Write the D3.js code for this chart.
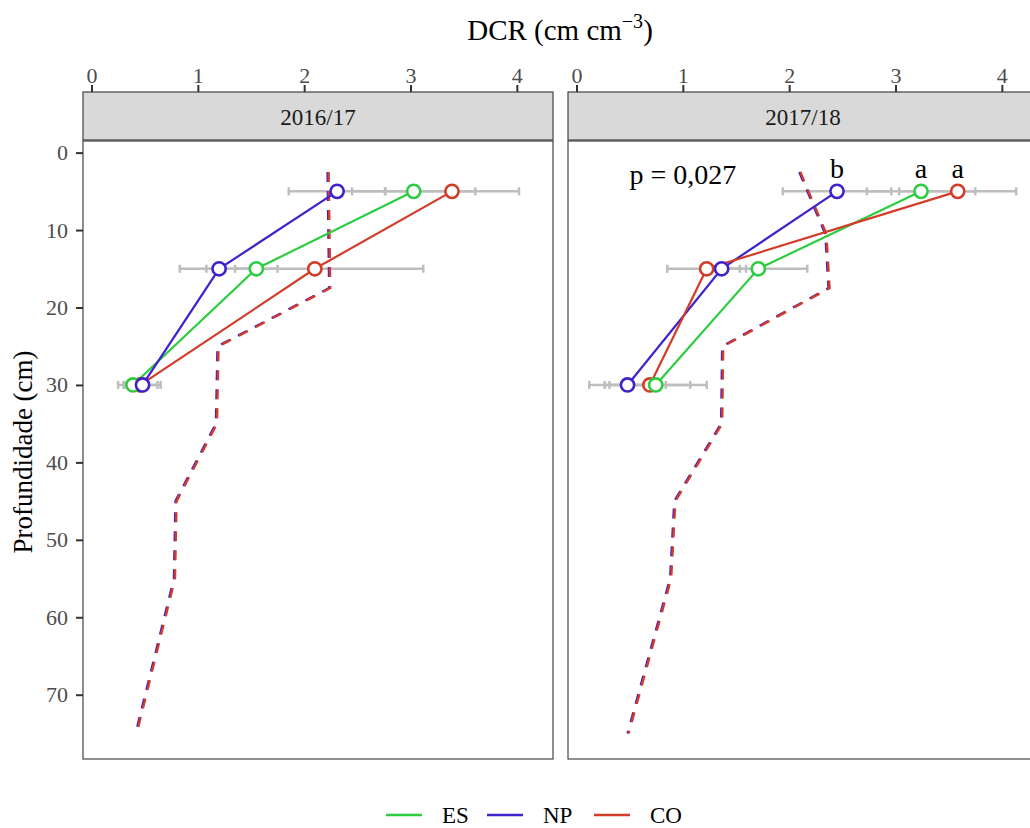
<!DOCTYPE html>
<meta charset="utf-8">
<head>
    <title>DCR por profundidade</title>
    <script type="text/javascript" src="https://d3js.org/d3.v7.min.js"></script>
    <style>
        body { margin: 0; background: #fff; }
        text { font-family: "Liberation Serif", "DejaVu Serif", serif; }
    </style>
</head>
<body>
    <div id="chart"></div>
    <script>
        // data
        var seasons = ["2016/17", "2017/18"];
        var treatments = ["ES", "NP", "CO"];
        var depths = [5, 15, 30];

        // 2016/17 means and error half-widths
        var es_1617 = [3.03, 1.55, 0.39], es_1617_err = [0.58, 0.20, 0.14];
        var np_1617 = [2.31, 1.20, 0.48], np_1617_err = [0.455, 0.37, 0.17];
        var co_1617 = [3.39, 2.10, 0.46], co_1617_err = [0.63, 1.02, 0.16];

        // 2017/18
        var es_1718 = [3.24, 1.71, 0.745], es_1718_err = [0.51, 0.46, 0.48];
        var np_1718 = [2.45, 1.365, 0.48], np_1718_err = [0.51, 0.17, 0.36];
        var co_1718 = [3.585, 1.224, 0.69], co_1718_err = [0.55, 0.37, 0.38];

        // dashed reference profiles
        var refDepth_1617 = [2.5, 17.5, 25, 35, 45, 55, 75];
        var refNP_1617 = [2.22, 2.235, 1.185, 1.17, 0.79, 0.775, 0.415];
        var refCO_1617 = [2.23, 2.245, 1.195, 1.18, 0.80, 0.785, 0.425];
        var refDepth_1718 = [2.5, 10.5, 17.5, 25, 35, 45, 55, 75];
        var refNP_1718 = [2.095, 2.34, 2.37, 1.37, 1.36, 0.92, 0.88, 0.48];
        var refCO_1718 = [2.105, 2.35, 2.38, 1.38, 1.37, 0.93, 0.89, 0.49];

        var letters_1718 = ["a", "b", "a"]; // ES, NP, CO at 5 cm
        var pLabel = "p = 0,027";

        var xTicks = [0, 1, 2, 3, 4];
        var yTicks = [0, 10, 20, 30, 40, 50, 60, 70];

        var colors = { ES: "#2ecc40", NP: "#3f22cc", CO: "#d23c28" };

        var width = 1030, height = 828;
        var panelW = 470;
        var panelX = [83, 568];
        var stripTop = 92, panelTop = 141, panelBottom = 759;

        var svg = d3.select("#chart").append("svg")
                    .attr("width", width)
                    .attr("height", height);

        var x = d3.scaleLinear().domain([-0.08, 4.34]).range([0, panelW]);
        var y = d3.scaleLinear().domain([-1.5, 78.3]).range([panelTop, panelBottom]);

        var panels = [
            { season: seasons[0], series: { ES: [es_1617, es_1617_err], NP: [np_1617, np_1617_err], CO: [co_1617, co_1617_err] },
              ref: [[refDepth_1617, refNP_1617, "NP"], [refDepth_1617, refCO_1617, "CO"]], letters: null },
            { season: seasons[1], series: { ES: [es_1718, es_1718_err], NP: [np_1718, np_1718_err], CO: [co_1718, co_1718_err] },
              ref: [[refDepth_1718, refNP_1718, "NP"], [refDepth_1718, refCO_1718, "CO"]], letters: letters_1718 }
        ];

        var line = d3.line().x(function(d) { return x(d[0]); }).y(function(d) { return y(d[1]); });

        panels.forEach(function(p, pi) {
            var g = svg.append("g").attr("transform", "translate(" + panelX[pi] + ",0)");

            // strip
            g.append("rect").attr("x", 0).attr("y", stripTop).attr("width", panelW)
             .attr("height", panelTop - stripTop - 1)
             .attr("fill", "#d9d9d9").attr("stroke", "#333").attr("stroke-width", 1.1);
            g.append("text").attr("x", panelW / 2).attr("y", (stripTop + panelTop) / 2 + 8)
             .attr("text-anchor", "middle").attr("font-size", 23).attr("fill", "#1a1a1a")
             .text(p.season);

            // top axis
            var xAxis = g.append("g").attr("transform", "translate(0," + stripTop + ")")
                         .call(d3.axisTop(x).tickValues(xTicks).tickSize(7).tickPadding(2).tickFormat(d3.format("d")));
            xAxis.attr("font-family", null).attr("font-size", null);
            xAxis.select(".domain").remove();
            xAxis.selectAll("line").attr("stroke", "#333").attr("stroke-width", 2);
            xAxis.selectAll("text").attr("font-size", 22).attr("fill", "#4d4d4d");

            // error bars
            treatments.forEach(function(t) {
                var vals = p.series[t][0], err = p.series[t][1];
                depths.forEach(function(dep, i) {
                    var x0 = x(vals[i] - err[i]), x1 = x(vals[i] + err[i]), yy = y(dep);
                    g.append("line").attr("x1", x0).attr("x2", x1).attr("y1", yy).attr("y2", yy)
                     .attr("stroke", "#bebebe").attr("stroke-width", 2.5);
                    [x0, x1].forEach(function(xc) {
                        g.append("line").attr("x1", xc).attr("x2", xc).attr("y1", yy - 4).attr("y2", yy + 4)
                         .attr("stroke", "#bebebe").attr("stroke-width", 2.5);
                    });
                });
            });

            // dashed reference lines
            p.ref.forEach(function(r) {
                var pts = r[0].map(function(d, i) { return [r[1][i], d]; });
                g.append("path").datum(pts).attr("d", line).attr("fill", "none")
                 .attr("stroke", colors[r[2]]).attr("stroke-width", 2.4)
                 .attr("stroke-dasharray", "10,9");
            });

            // solid lines
            treatments.forEach(function(t) {
                var pts = depths.map(function(d, i) { return [p.series[t][0][i], d]; });
                g.append("path").datum(pts).attr("d", line).attr("fill", "none")
                 .attr("stroke", colors[t]).attr("stroke-width", 2.2);
            });

            // points
            ["CO", "ES", "NP"].forEach(function(t) {
                g.selectAll(null).data(depths).enter().append("circle")
                 .attr("cx", function(d, i) { return x(p.series[t][0][i]); })
                 .attr("cy", function(d) { return y(d); })
                 .attr("r", 6.6).attr("fill", "#fff")
                 .attr("stroke", colors[t]).attr("stroke-width", 2.6);
            });

            // letters + p value
            if (p.letters) {
                treatments.forEach(function(t, i) {
                    g.append("text").attr("x", x(p.series[t][0][0])).attr("y", y(depths[0]) - 13)
                     .attr("text-anchor", "middle").attr("font-size", 28).attr("fill", "#000")
                     .text(p.letters[i]);
                });
                g.append("text").attr("x", x(1.0)).attr("y", 184)
                 .attr("text-anchor", "middle").attr("font-size", 28).attr("fill", "#000")
                 .text(pLabel);
            }

            // panel border
            g.append("rect").attr("x", 0).attr("y", panelTop).attr("width", panelW)
             .attr("height", panelBottom - panelTop).attr("fill", "none")
             .attr("stroke", "#333").attr("stroke-width", 1.1);

            // left axis only on first panel
            if (pi === 0) {
                var yAxis = g.append("g")
                             .call(d3.axisLeft(y).tickValues(yTicks).tickSize(7).tickPadding(8).tickFormat(d3.format("d")));
                yAxis.attr("font-family", null).attr("font-size", null);
                yAxis.select(".domain").remove();
                yAxis.selectAll("line").attr("stroke", "#333").attr("stroke-width", 2);
                yAxis.selectAll("text").attr("font-size", 22).attr("fill", "#4d4d4d");
            }
        });

        // axis titles
        var title = svg.append("text").attr("x", 560).attr("y", 40).attr("text-anchor", "middle")
                       .attr("font-size", 29).attr("fill", "#000");
        title.append("tspan").text("DCR (cm cm");
        title.append("tspan").attr("dy", -12).attr("font-size", 20).text("\u22123");
        title.append("tspan").attr("dy", 12).text(")");

        svg.append("text").attr("transform", "translate(32,452) rotate(-90)")
           .attr("text-anchor", "middle").attr("font-size", 27).attr("fill", "#000")
           .text("Profundidade (cm)");

        // legend
        var legX = [386, 487, 594];
        treatments.forEach(function(t, i) {
            var lg = svg.append("g").attr("transform", "translate(" + legX[i] + ",815)");
            lg.append("line").attr("x1", 0).attr("x2", 36).attr("y1", 0).attr("y2", 0)
              .attr("stroke", colors[t]).attr("stroke-width", 2.4);
            lg.append("text").attr("x", 56).attr("y", 8).attr("font-size", 23).attr("fill", "#000").text(t);
        });
    </script>
</body>
</html>
